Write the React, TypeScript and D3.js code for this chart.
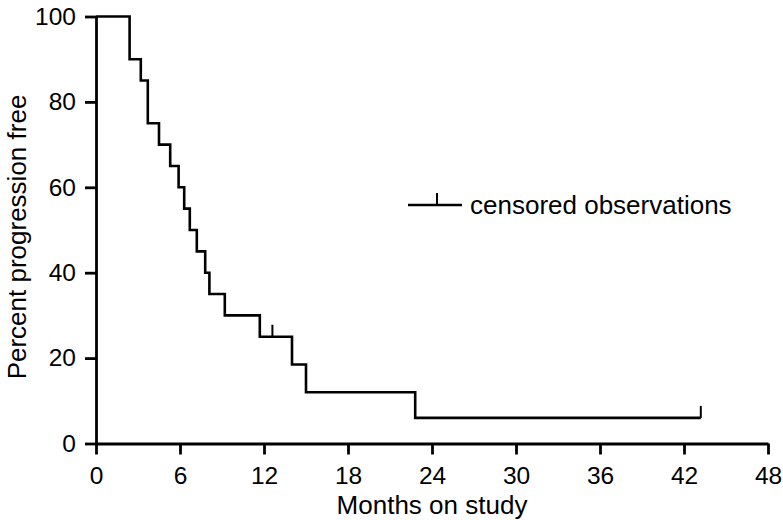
import React, { useEffect, useRef } from 'react';
import * as d3 from 'd3';

// Kaplan-Meier steps
const stepMonths = [0, 2.4, 3.2, 3.7, 4.5, 5.3, 5.9, 6.3, 6.7, 7.2, 7.8, 8.1, 9.2, 11.7, 14.0, 15.0, 22.8];
const stepPercent = [100, 90, 85, 75, 70, 65, 60, 55, 50, 45, 40, 35, 30, 25, 18.5, 12, 6];
const lastFollowUp = 43.2;

const censorMonths = [12.6, 43.2];
const censorPercent = [25, 6];

const xTicks = [0, 6, 12, 18, 24, 30, 36, 42, 48];
const yTicks = [0, 20, 40, 60, 80, 100];

const FONT = 'Liberation Sans, Arial, Helvetica, sans-serif';

const App = () => {
  const ref = useRef<SVGSVGElement | null>(null);

  useEffect(() => {
    const svg = d3.select(ref.current);
    svg.selectAll('*').remove();

    const x = d3.scaleLinear().domain([0, 48]).range([96, 768]);
    const y = d3.scaleLinear().domain([0, 100]).range([443.5, 16.5]);

    const xAxis = svg.append('g')
      .attr('transform', `translate(0,${y(0)})`)
      .call(d3.axisBottom(x).tickValues(xTicks).tickSize(11).tickPadding(12).tickSizeOuter(0));
    const yAxis = svg.append('g')
      .attr('transform', `translate(${x(0)},0)`)
      .call(d3.axisLeft(y).tickValues(yTicks).tickSize(11).tickPadding(9).tickSizeOuter(0));

    [xAxis, yAxis].forEach(a => {
      a.select('.domain').attr('stroke', '#000').attr('stroke-width', 2.8);
      a.selectAll('.tick line').attr('stroke', '#000').attr('stroke-width', 2.8);
      a.selectAll('.tick text')
        .attr('fill', '#000')
        .attr('font-family', FONT)
        .attr('font-size', 24.5);
    });

    const pts: [number, number][] = stepMonths.map((m, i) => [m, stepPercent[i]]);
    pts.push([lastFollowUp, stepPercent[stepPercent.length - 1]]);

    svg.append('path')
      .datum(pts)
      .attr('fill', 'none')
      .attr('stroke', '#000')
      .attr('stroke-width', 2.6)
      .attr('d', d3.line<[number, number]>()
        .x(d => x(d[0]))
        .y(d => y(d[1]))
        .curve(d3.curveStepAfter));

    svg.append('g')
      .selectAll('line')
      .data(censorMonths)
      .join('line')
      .attr('x1', d => x(d))
      .attr('x2', d => x(d))
      .attr('y1', (d, i) => y(censorPercent[i]))
      .attr('y2', (d, i) => y(censorPercent[i]) - 12)
      .attr('stroke', '#000')
      .attr('stroke-width', 2);

    // legend
    const lg = svg.append('g');
    lg.append('line')
      .attr('x1', 408).attr('x2', 462).attr('y1', 205).attr('y2', 205)
      .attr('stroke', '#000').attr('stroke-width', 2.6);
    lg.append('line')
      .attr('x1', 437).attr('x2', 437).attr('y1', 205).attr('y2', 193)
      .attr('stroke', '#000').attr('stroke-width', 2);
    lg.append('text')
      .attr('x', 470).attr('y', 214)
      .attr('font-family', FONT).attr('font-size', 26)
      .text('censored observations');

    svg.append('text')
      .attr('x', (x(0) + x(48)) / 2).attr('y', 514)
      .attr('text-anchor', 'middle')
      .attr('font-family', FONT).attr('font-size', 26)
      .text('Months on study');

    svg.append('text')
      .attr('transform', `translate(26,${237}) rotate(-90)`)
      .attr('text-anchor', 'middle')
      .attr('font-family', FONT).attr('font-size', 26)
      .text('Percent progression free');
  }, []);

  return (
    <svg ref={ref} width={783} height={520}
      style={{ position: 'absolute', left: 0, top: 0, background: '#fff' }} />
  );
};

export default App;
